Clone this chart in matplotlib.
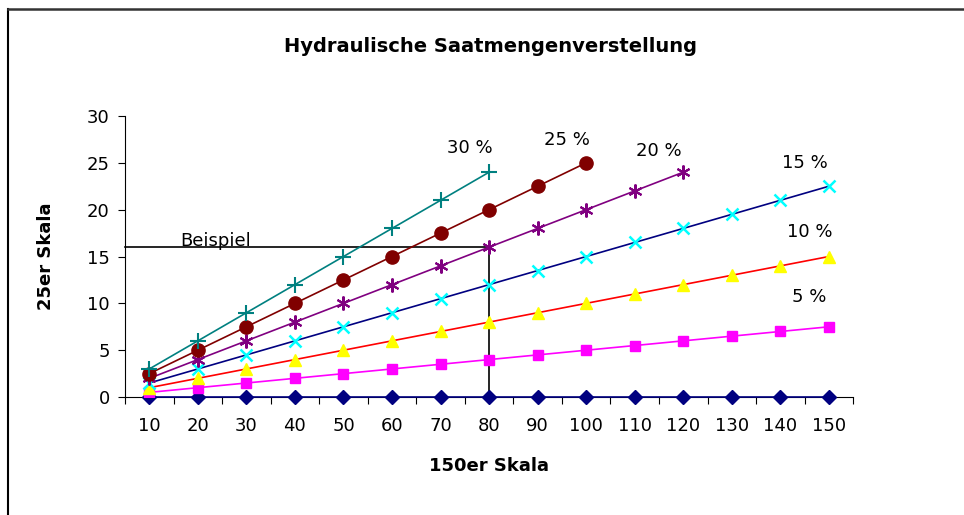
import matplotlib.pyplot as plt
from matplotlib.lines import Line2D

plt.rcParams['font.family'] = ['DejaVu Sans']

# 150er Skala (categories)
skala150 = [10, 20, 30, 40, 50, 60, 70, 80, 90, 100, 110, 120, 130, 140, 150]

# 25er Skala values per setting
s0 = [0, 0, 0, 0, 0, 0, 0, 0, 0, 0, 0, 0, 0, 0, 0]
s5 = [0.5, 1, 1.5, 2, 2.5, 3, 3.5, 4, 4.5, 5, 5.5, 6, 6.5, 7, 7.5]
s10 = [1, 2, 3, 4, 5, 6, 7, 8, 9, 10, 11, 12, 13, 14, 15]
s15 = [1.5, 3, 4.5, 6, 7.5, 9, 10.5, 12, 13.5, 15, 16.5, 18, 19.5, 21, 22.5]
s20 = [2, 4, 6, 8, 10, 12, 14, 16, 18, 20, 22, 24]
s25 = [2.5, 5, 7.5, 10, 12.5, 15, 17.5, 20, 22.5, 25]
s30 = [3, 6, 9, 12, 15, 18, 21, 24]

labels = ['5 %', '10 %', '15 %', '20 %', '25 %', '30 %']
label_x = [146, 146, 145, 115, 96, 76]
label_y = [10.7, 17.6, 25.0, 26.3, 27.4, 26.6]

beispiel_x = 80
beispiel_y = 16

fig = plt.figure(figsize=(9.64, 5.15), dpi=100)
ax = fig.add_axes([0.1297, 0.229, 0.7553, 0.5458])

ax.plot(skala150, s0, color='#000080', marker='D', markersize=7, lw=1.2, clip_on=False, zorder=3)
ax.plot(skala150, s5, color='#FF00FF', marker='s', markersize=7.5, lw=1.2, zorder=3)
ax.plot(skala150, s10, color='#FF0000', marker='^', markersize=9, mfc='#FFFF00', mec='#FFFF00', lw=1.2, zorder=3)
ax.plot(skala150, s15, color='#000080', marker='x', markersize=9, mec='#00FFFF', mew=1.8, lw=1.2, zorder=3)
ax.plot(skala150[:len(s20)], s20, color='#800080', marker=(6, 2, 0), markersize=10, mew=1.5, lw=1.2, zorder=3)
ax.plot(skala150[:len(s25)], s25, color='#800000', marker='o', markersize=9.5, lw=1.2, zorder=3)
ax.plot(skala150[:len(s30)], s30, color='#008080', marker='+', markersize=11, mew=1.5, lw=1.2, zorder=3)

# Beispiel lines
ax.plot([5, beispiel_x], [beispiel_y, beispiel_y], color='black', lw=1.2, zorder=2, clip_on=False)
ax.plot([beispiel_x, beispiel_x], [0, beispiel_y], color='black', lw=1.2, zorder=2)
ax.text(16.3, 16.15, 'Beispiel', fontsize=13, ha='left', va='baseline')

for t, x, y in zip(labels, label_x, label_y):
    ax.text(x, y, t, fontsize=13, ha='center', va='center')

ax.set_xlim(5, 155)
ax.set_ylim(0, 30)
ax.set_xticks([5 + 10 * i for i in range(16)])
ax.set_xticklabels([])
ax.set_xticks(skala150, minor=True)
ax.set_xticklabels([str(v) for v in skala150], minor=True, fontsize=13)
ax.tick_params(axis='x', which='minor', length=0, pad=14)
ax.tick_params(axis='x', which='major', direction='out', length=5)
ax.set_yticks(range(0, 31, 5))
ax.tick_params(axis='y', direction='out', length=5, labelsize=13, pad=6)
ax.spines['top'].set_visible(False)
ax.spines['right'].set_visible(False)

ax.set_xlabel('150er Skala', fontsize=13, fontweight='bold', labelpad=16)
ax.set_ylabel('25er Skala', fontsize=13, fontweight='bold', labelpad=23)
fig.text(490 / 964, 1 - 46 / 515, 'Hydraulische Saatmengenverstellung', fontsize=14, fontweight='bold', ha='center', va='center')

# chart frame (top and left edges)
fig.add_artist(Line2D([8 / 964, 8 / 964], [0, 1 - 9 / 515], color='black', lw=1.5, transform=fig.transFigure))
fig.add_artist(Line2D([8 / 964, 1], [1 - 9 / 515, 1 - 9 / 515], color='#333333', lw=1.8, transform=fig.transFigure))

fig.savefig('out.png', dpi=100)
